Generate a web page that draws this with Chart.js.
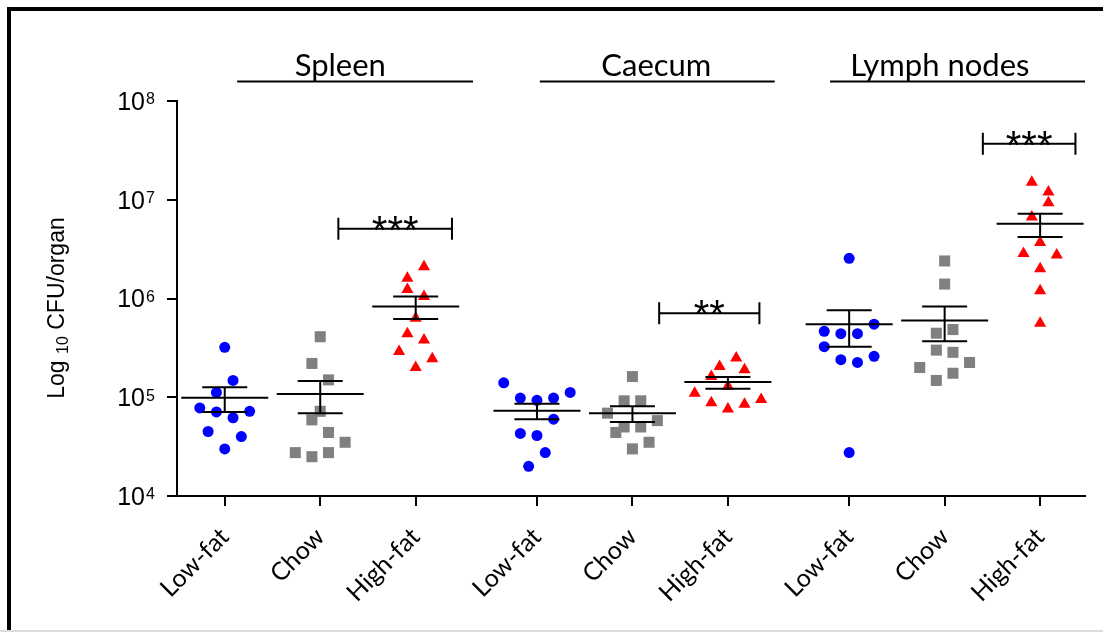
<!DOCTYPE html>
<html lang="en">
<head>
<meta charset="UTF-8">
<title>Log10 CFU per organ by diet</title>
<script src="https://cdn.jsdelivr.net/npm/chart.js@4"></script>
<style>
  html, body { margin: 0; padding: 0; background: #fff; }
  #wrap { width: 1103px; height: 632px; }
</style>
</head>
<body>
<div id="wrap"><canvas id="cfuChart" width="1103" height="632"></canvas></div>
<script>
// groups on the x axis
const organs = ['Spleen', 'Caecum', 'Lymph nodes'];
const diets = ['Low-fat', 'Chow', 'High-fat'];

// y axis ticks (CFU/organ) and their exponents
const yTicks = [1e4, 1e5, 1e6, 1e7, 1e8];
const yExponents = ['4', '5', '6', '7', '8'];

// CFU per organ, one value per animal
const spleenLowFat  = [3.2e5, 1.48e5, 1.12e5, 7.8e4, 7.1e4, 7.2e4, 6.2e4, 4.5e4, 4.0e4, 3.0e4];
const spleenChow    = [4.1e5, 2.2e5, 1.5e5, 7.2e4, 5.9e4, 4.4e4, 3.5e4, 2.75e4, 2.5e4, 2.75e4];
const spleenHighFat = [2.1e6, 1.6e6, 1.23e6, 1.05e6, 6.3e5, 4.4e5, 3.8e5, 2.9e5, 2.45e5, 2.0e5];
const caecumLowFat  = [1.4e5, 9.8e4, 9.3e4, 9.8e4, 1.12e5, 6.0e4, 4.3e4, 4.1e4, 2.75e4, 2.0e4];
const caecumChow    = [1.62e5, 9.2e4, 9.2e4, 6.9e4, 5.8e4, 5.0e4, 5.0e4, 4.4e4, 3.5e4, 3.0e4];
const caecumHighFat = [2.5e5, 2.05e5, 1.9e5, 1.62e5, 1.29e5, 1.1e5, 9.5e4, 8.8e4, 8.5e4, 7.6e4];
const lymphLowFat   = [2.55e6, 5.5e5, 4.65e5, 4.4e5, 4.4e5, 3.25e5, 2.6e5, 2.4e5, 2.25e5, 2.75e4];
const lymphChow     = [2.4e6, 1.4e6, 4.85e5, 4.45e5, 3.0e5, 2.85e5, 2.25e5, 2.0e5, 1.75e5, 1.48e5];
const lymphHighFat  = [1.5e7, 1.2e7, 9.3e6, 6.7e6, 3.7e6, 2.85e6, 2.75e6, 2.0e6, 1.2e6, 5.6e5];

// scatter column of each animal within its group (dot-plot spread)
const spleenLowFatCol  = [0, 1, -1, -3, -1, 3, 1, -2, 2, 0];
const spleenChowCol    = [0, -1, 1, 0, -1, 1, 3, -3, -1, 1];
const spleenHighFatCol = [1, -1, -1, 1, 0, -1, 1, -2, 2, 0];
const caecumLowFatCol  = [-4, -2, 0, 2, 4, 2, -2, 0, 1, -1];
const caecumChowCol    = [0, -1, 1, -3, 3, -1, 1, -2, 2, 0];
const caecumHighFatCol = [1, -1, 2, -2, 0, -4, 4, -2, 2, 0];
const lymphLowFatCol   = [0, 3, -3, -1, 1, -3, 3, -1, 1, 0];
const lymphChowCol     = [0, 0, 1, -1, -1, 1, 3, -3, 1, -1];
const lymphHighFatCol  = [-1, 1, 1, -1, 0, -2, 2, 0, 0, 0];

// mean and SEM limits per group, same order as above
const meanCFU  = [9.9e4, 1.08e5, 8.3e5, 7.3e4, 6.9e4, 1.43e5, 5.5e5, 6.0e5, 5.7e6];
const semUpper = [1.26e5, 1.46e5, 1.05e6, 8.6e4, 8.1e4, 1.6e5, 7.6e5, 8.3e5, 7.2e6];
const semLower = [7.1e4, 6.9e4, 6.2e5, 6.0e4, 5.6e4, 1.22e5, 3.25e5, 3.7e5, 4.2e6];

// significance, High-fat vs Chow in each organ
const sigLabels = ['***', '**', '***'];

const groupValues = [spleenLowFat, spleenChow, spleenHighFat, caecumLowFat, caecumChow,
  caecumHighFat, lymphLowFat, lymphChow, lymphHighFat];
const groupCols = [spleenLowFatCol, spleenChowCol, spleenHighFatCol, caecumLowFatCol, caecumChowCol,
  caecumHighFatCol, lymphLowFatCol, lymphChowCol, lymphHighFatCol];

// layout: category positions on a linear x scale, wider gap between organs
const ORGAN_GAP = 3.27;
const xPos = [];
organs.forEach((o, i) => diets.forEach((d, j) => xPos.push(i * ORGAN_GAP + j)));
const COL_STEP = 0.087;

const dietStyle = [
  { color: '#0000ff', pointStyle: 'circle', radius: 5.5 },
  { color: '#808080', pointStyle: 'rect', radius: 7.8 },
  { color: '#ff0000', pointStyle: 'triangle', radius: 7 }
];

const datasets = groupValues.map((vals, k) => {
  const st = dietStyle[k % 3];
  return {
    label: organs[Math.floor(k / 3)] + ' ' + diets[k % 3],
    data: vals.map((v, n) => ({ x: xPos[k] + groupCols[k][n] * COL_STEP, y: v })),
    backgroundColor: st.color,
    borderColor: st.color,
    borderWidth: 0,
    pointStyle: st.pointStyle,
    pointRadius: st.radius
  };
});

// bracket placement (x in scale units, y in CFU)
const brackets = [
  { x1: 1.19, x2: 2.38, y: 5.1e6 },
  { x1: 4.55, x2: 5.60, y: 7.1e5 },
  { x1: 7.94, x2: 8.91, y: 3.7e7 }
];
// organ header underline extents (x in scale units)
const headers = [
  { x1: 0.13, x2: 2.60, tx: 1.21 },
  { x1: 3.30, x2: 5.76, tx: 4.52 },
  { x1: 6.34, x2: 9.01, tx: 7.49 }
];

const AXIS_FONT = '"Liberation Sans", Arial, sans-serif';
const LABEL_FONT = 'Lato, "Open Sans", sans-serif';

const decorations = {
  id: 'decorations',
  beforeDraw(chart) {
    const ctx = chart.ctx;
    ctx.save();
    ctx.fillStyle = '#fff';
    ctx.fillRect(0, 0, chart.width, chart.height);
    // outer frame
    ctx.fillStyle = '#000';
    ctx.fillRect(7, 7, chart.width - 7, 4);
    ctx.fillRect(7, 7, 4, chart.height - 9);
    ctx.fillStyle = '#dcdcdc';
    ctx.fillRect(0, chart.height - 2, chart.width, 2);
    ctx.restore();
  },
  afterDatasetsDraw(chart) {
    const ctx = chart.ctx;
    const xs = chart.scales.x, ys = chart.scales.y;
    ctx.save();
    ctx.strokeStyle = '#000';
    ctx.lineWidth = 2;
    // mean with SEM
    meanCFU.forEach((m, k) => {
      const cx = xs.getPixelForValue(xPos[k]);
      const my = ys.getPixelForValue(m);
      const hy = ys.getPixelForValue(semUpper[k]);
      const ly = ys.getPixelForValue(semLower[k]);
      ctx.beginPath();
      ctx.moveTo(cx - 43.5, my); ctx.lineTo(cx + 43.5, my);
      ctx.moveTo(cx - 22.5, hy); ctx.lineTo(cx + 22.5, hy);
      ctx.moveTo(cx - 22.5, ly); ctx.lineTo(cx + 22.5, ly);
      ctx.moveTo(cx, hy); ctx.lineTo(cx, ly);
      ctx.stroke();
    });
    // significance brackets
    ctx.fillStyle = '#000';
    ctx.font = '40px ' + AXIS_FONT;
    ctx.textAlign = 'center';
    ctx.textBaseline = 'alphabetic';
    brackets.forEach((b, i) => {
      const x1 = xs.getPixelForValue(b.x1), x2 = xs.getPixelForValue(b.x2);
      const y = ys.getPixelForValue(b.y);
      ctx.beginPath();
      ctx.moveTo(x1, y); ctx.lineTo(x2, y);
      ctx.moveTo(x1, y - 11); ctx.lineTo(x1, y + 11);
      ctx.moveTo(x2, y - 11); ctx.lineTo(x2, y + 11);
      ctx.stroke();
      ctx.fillText(sigLabels[i], (x1 + x2) / 2, y + 15);
    });
    ctx.restore();
  },
  afterDraw(chart) {
    const ctx = chart.ctx;
    const xs = chart.scales.x, ys = chart.scales.y;
    ctx.save();
    ctx.fillStyle = '#000';
    // y tick labels with superscript exponent
    yTicks.forEach((v, i) => {
      const py = ys.getPixelForValue(v);
      ctx.font = '25px ' + AXIS_FONT;
      ctx.textAlign = 'right';
      ctx.textBaseline = 'middle';
      ctx.fillText('10', 145, py + 2);
      ctx.font = '16px ' + AXIS_FONT;
      ctx.textAlign = 'left';
      ctx.textBaseline = 'top';
      ctx.fillText(yExponents[i], 146, py - 9);
    });
    // y axis title with subscript
    ctx.translate(64, 308);
    ctx.rotate(-Math.PI / 2);
    ctx.textBaseline = 'alphabetic';
    ctx.textAlign = 'left';
    const big = '23px ' + AXIS_FONT, small = '16px ' + AXIS_FONT;
    ctx.font = big; const w1 = ctx.measureText('Log ').width;
    ctx.font = small; const w2 = ctx.measureText('10').width;
    ctx.font = big; const w3 = ctx.measureText(' CFU/organ').width;
    let tx = -(w1 + w2 + w3) / 2;
    ctx.font = big; ctx.fillText('Log ', tx, 0); tx += w1;
    ctx.font = small; ctx.fillText('10', tx, 4); tx += w2;
    ctx.font = big; ctx.fillText(' CFU/organ', tx, 0);
    ctx.setTransform(1, 0, 0, 1, 0, 0);
    // organ headers
    ctx.font = '31px ' + LABEL_FONT;
    ctx.textAlign = 'center';
    ctx.textBaseline = 'alphabetic';
    ctx.fillStyle = '#000';
    ctx.strokeStyle = '#000';
    ctx.lineWidth = 2;
    headers.forEach((h, i) => {
      ctx.fillText(organs[i], xs.getPixelForValue(h.tx), 76);
      ctx.beginPath();
      ctx.moveTo(xs.getPixelForValue(h.x1), 81.5);
      ctx.lineTo(xs.getPixelForValue(h.x2), 81.5);
      ctx.stroke();
    });
    ctx.restore();
  }
};

new Chart(document.getElementById('cfuChart'), {
  type: 'scatter',
  data: { datasets },
  plugins: [decorations],
  options: {
    responsive: false,
    animation: false,
    devicePixelRatio: 1,
    events: [],
    layout: { padding: { left: 0, top: 101, right: 18, bottom: 0 } },
    plugins: { legend: { display: false }, tooltip: { enabled: false } },
    scales: {
      x: {
        type: 'linear',
        min: -0.5,
        max: 9.01,
        afterBuildTicks: s => { s.ticks = xPos.map(v => ({ value: v })); },
        afterFit: s => { s.height = 136; },
        grid: { display: true, drawOnChartArea: false, drawTicks: true, tickLength: 10, color: '#000', lineWidth: 2 },
        border: { display: true, color: '#000', width: 2 },
        ticks: {
          autoSkip: false,
          minRotation: 45,
          maxRotation: 45,
          padding: 16,
          color: '#000',
          font: { family: LABEL_FONT, size: 25 },
          callback: (v, i) => diets[i % 3]
        }
      },
      y: {
        type: 'logarithmic',
        min: 1e4,
        max: 1e8,
        afterBuildTicks: s => { s.ticks = yTicks.map(v => ({ value: v })); },
        afterFit: s => { s.width = 177; },
        grid: { display: true, drawOnChartArea: false, drawTicks: true, tickLength: 10, color: '#000', lineWidth: 2 },
        border: { display: true, color: '#000', width: 2 },
        ticks: { display: false }
      }
    }
  }
});
</script>
</body>
</html>
